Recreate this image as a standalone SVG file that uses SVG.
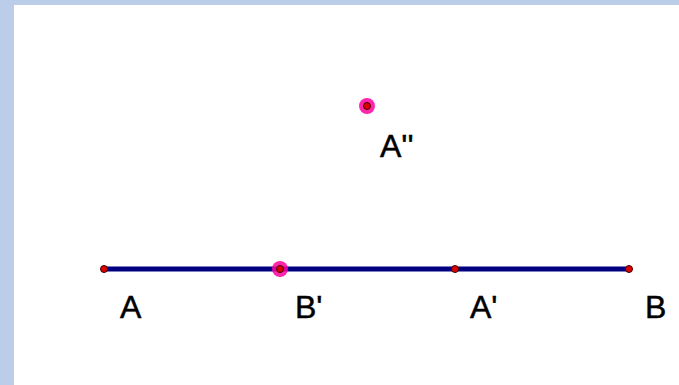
<svg xmlns="http://www.w3.org/2000/svg" width="679" height="385" viewBox="0 0 679 385">
<style>
.lbl{font-family:"Liberation Sans",Arial,sans-serif;font-size:32px;fill:#000;stroke:#000;stroke-width:0.5}
.pt{fill:#e00000;stroke:#400000;stroke-width:1}
.halo{fill:#ff00a0;opacity:0.85}
</style>
<rect x="0" y="0" width="679" height="385" fill="#bccdea"/>
<rect x="14" y="5" width="665" height="380" fill="#ffffff"/>
<g id="connectors">
<line x1="104" y1="269" x2="629" y2="269" stroke="#000080" stroke-width="5"/>
</g>
<g id="A"><circle class="pt" cx="104" cy="269" r="3.5"/><text class="lbl" x="120" y="318">A</text></g>
<g id="Bp"><circle class="halo" cx="280" cy="269" r="8"/><circle class="pt" cx="280" cy="269" r="3.5"/><text class="lbl" x="295" y="318">B'</text></g>
<g id="Ap"><circle class="pt" cx="455" cy="269" r="3.5"/><text class="lbl" x="470" y="318">A'</text></g>
<g id="B"><circle class="pt" cx="629" cy="269" r="3.5"/><text class="lbl" x="645" y="318">B</text></g>
<g id="App"><circle class="halo" cx="367" cy="106" r="8"/><circle class="pt" cx="367" cy="106" r="3.5"/><text class="lbl" x="380" y="157">A''</text></g>
</svg>
